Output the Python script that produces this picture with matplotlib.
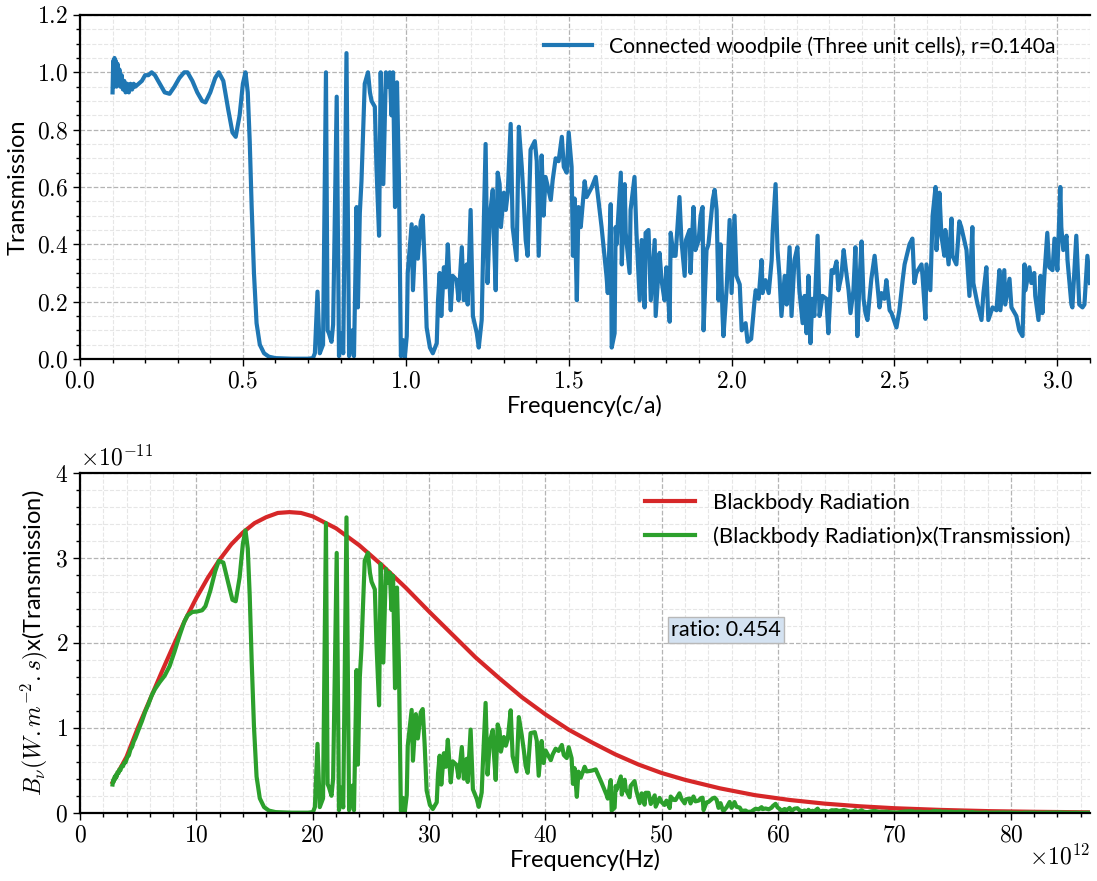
import numpy as np
import matplotlib.pyplot as plt
from matplotlib.ticker import MultipleLocator, FuncFormatter

# transmission spectrum, frequency in units of c/a
freq_ca = [
    0.100, 0.102, 0.104, 0.106, 0.108, 0.110, 0.112, 0.115, 0.118, 0.121,
    0.124, 0.128, 0.132, 0.136, 0.140, 0.145, 0.150, 0.155, 0.160, 0.165,
    0.170, 0.180, 0.190, 0.200, 0.210, 0.220, 0.230, 0.245, 0.260, 0.275,
    0.290, 0.305, 0.320, 0.330, 0.345, 0.360, 0.375, 0.385, 0.400, 0.415,
    0.426, 0.440, 0.455, 0.468, 0.478, 0.490, 0.500, 0.508, 0.515, 0.521,
    0.527, 0.534, 0.542, 0.552, 0.565, 0.580, 0.600, 0.650, 0.700, 0.715,
    0.721, 0.729, 0.736, 0.746, 0.755, 0.760, 0.764, 0.772, 0.777, 0.788,
    0.795, 0.802, 0.808, 0.818, 0.826, 0.836, 0.841, 0.849, 0.853, 0.859,
    0.864, 0.868, 0.874, 0.884, 0.890, 0.895, 0.905, 0.910, 0.918, 0.923,
    0.931, 0.939, 0.945, 0.951, 0.956, 0.961, 0.967, 0.973, 0.979, 0.985,
    0.991, 0.997, 1.003, 1.006, 1.018, 1.022, 1.031, 1.037, 1.046, 1.052,
    1.058, 1.064, 1.074, 1.083, 1.095, 1.099, 1.104, 1.109, 1.117, 1.123,
    1.129, 1.138, 1.144, 1.156, 1.162, 1.172, 1.178, 1.187, 1.190, 1.199,
    1.206, 1.218, 1.224, 1.233, 1.236, 1.245, 1.251, 1.258, 1.267, 1.270,
    1.276, 1.282, 1.288, 1.292, 1.301, 1.307, 1.313, 1.322, 1.328, 1.340,
    1.347, 1.356, 1.362, 1.368, 1.374, 1.383, 1.396, 1.402, 1.408, 1.417,
    1.423, 1.429, 1.436, 1.445, 1.451, 1.460, 1.469, 1.479, 1.485, 1.494,
    1.500, 1.509, 1.513, 1.518, 1.525, 1.530, 1.537, 1.549, 1.555, 1.571,
    1.583, 1.601, 1.616, 1.620, 1.629, 1.632, 1.641, 1.644, 1.647, 1.660,
    1.663, 1.672, 1.675, 1.687, 1.690, 1.702, 1.708, 1.718, 1.724, 1.733,
    1.736, 1.745, 1.752, 1.764, 1.767, 1.779, 1.785, 1.794, 1.800, 1.810,
    1.813, 1.822, 1.828, 1.840, 1.846, 1.856, 1.860, 1.871, 1.874, 1.883,
    1.889, 1.899, 1.905, 1.911, 1.914, 1.923, 1.929, 1.942, 1.948, 1.954,
    1.960, 1.966, 1.972, 1.975, 1.985, 1.994, 2.000, 2.009, 2.015, 2.025,
    2.031, 2.043, 2.049, 2.060, 2.071, 2.074, 2.083, 2.092, 2.095, 2.104,
    2.114, 2.123, 2.126, 2.135, 2.141, 2.147, 2.153, 2.163, 2.169, 2.178,
    2.184, 2.193, 2.202, 2.208, 2.218, 2.224, 2.230, 2.236, 2.242, 2.248,
    2.254, 2.264, 2.270, 2.279, 2.291, 2.297, 2.307, 2.313, 2.322, 2.328,
    2.337, 2.344, 2.350, 2.359, 2.365, 2.374, 2.380, 2.386, 2.393, 2.399,
    2.405, 2.411, 2.417, 2.429, 2.439, 2.445, 2.454, 2.460, 2.469, 2.475,
    2.485, 2.491, 2.506, 2.515, 2.525, 2.531, 2.546, 2.555, 2.561, 2.567,
    2.583, 2.586, 2.595, 2.598, 2.610, 2.617, 2.626, 2.629, 2.638, 2.644,
    2.653, 2.656, 2.666, 2.675, 2.678, 2.690, 2.699, 2.705, 2.721, 2.730,
    2.739, 2.742, 2.755, 2.767, 2.773, 2.782, 2.788, 2.801, 2.813, 2.822,
    2.825, 2.837, 2.840, 2.853, 2.859, 2.874, 2.883, 2.893, 2.899, 2.902,
    2.914, 2.920, 2.929, 2.932, 2.942, 2.948, 2.954, 2.960, 2.969, 2.975,
    2.985, 2.991, 3.000, 3.009, 3.012, 3.018, 3.028, 3.031, 3.043, 3.046,
    3.058, 3.067, 3.077, 3.083, 3.092, 3.100,
]
transmission = [
    0.93, 1.04, 0.95, 1.05, 0.96, 1.04, 0.95, 1.03, 0.96, 1.01,
    0.95, 0.99, 0.94, 0.97, 0.93, 0.96, 0.93, 0.96, 0.94, 0.96,
    0.95, 0.96, 0.97, 0.99, 0.99, 1.00, 0.99, 0.96, 0.93, 0.925,
    0.95, 0.98, 1.00, 1.00, 0.97, 0.93, 0.90, 0.895, 0.93, 0.98,
    1.00, 0.97, 0.87, 0.79, 0.775, 0.85, 0.96, 1.00, 0.93, 0.76,
    0.53, 0.30, 0.125, 0.05, 0.02, 0.008, 0.003, 0.001, 0.001, 0.003,
    0.02, 0.235, 0.02, 0.05, 1.00, 0.10, 0.09, 0.06, 0.12, 0.915,
    0.01, 0.09, 0.02, 1.067, 0.01, 0.10, 0.01, 0.53, 0.18, 0.51,
    0.62, 0.76, 0.96, 1.00, 0.93, 0.90, 0.88, 0.67, 0.43, 1.00,
    0.61, 1.00, 0.95, 1.00, 0.85, 1.00, 0.53, 0.965, 0.63, 0.01,
    0.066, 0.005, 0.08, 0.30, 0.47, 0.24, 0.46, 0.35, 0.48, 0.50,
    0.33, 0.11, 0.04, 0.02, 0.055, 0.205, 0.30, 0.15, 0.32, 0.25,
    0.40, 0.17, 0.29, 0.275, 0.205, 0.39, 0.205, 0.33, 0.19, 0.52,
    0.15, 0.09, 0.04, 0.136, 0.30, 0.75, 0.265, 0.50, 0.59, 0.44,
    0.24, 0.65, 0.61, 0.46, 0.58, 0.52, 0.58, 0.82, 0.46, 0.345,
    0.81, 0.67, 0.555, 0.415, 0.36, 0.73, 0.76, 0.69, 0.36, 0.71,
    0.50, 0.635, 0.60, 0.555, 0.625, 0.70, 0.69, 0.775, 0.67, 0.65,
    0.79, 0.67, 0.36, 0.56, 0.205, 0.53, 0.46, 0.62, 0.565, 0.60,
    0.635, 0.46, 0.29, 0.23, 0.54, 0.04, 0.09, 0.46, 0.40, 0.65,
    0.33, 0.61, 0.44, 0.30, 0.52, 0.635, 0.44, 0.205, 0.415, 0.18,
    0.44, 0.45, 0.205, 0.415, 0.15, 0.37, 0.275, 0.205, 0.32, 0.13,
    0.44, 0.36, 0.36, 0.565, 0.415, 0.29, 0.415, 0.45, 0.30, 0.53,
    0.38, 0.415, 0.50, 0.53, 0.10, 0.38, 0.40, 0.555, 0.59, 0.52,
    0.205, 0.40, 0.16, 0.08, 0.25, 0.485, 0.23, 0.50, 0.29, 0.26,
    0.10, 0.125, 0.06, 0.07, 0.21, 0.24, 0.21, 0.345, 0.23, 0.275,
    0.23, 0.345, 0.44, 0.61, 0.38, 0.29, 0.15, 0.29, 0.19, 0.39,
    0.15, 0.345, 0.39, 0.24, 0.125, 0.22, 0.09, 0.29, 0.055, 0.21,
    0.15, 0.43, 0.15, 0.22, 0.21, 0.09, 0.31, 0.30, 0.34, 0.24,
    0.29, 0.38, 0.32, 0.24, 0.16, 0.24, 0.39, 0.08, 0.28, 0.41,
    0.21, 0.16, 0.136, 0.28, 0.36, 0.29, 0.18, 0.23, 0.21, 0.275,
    0.17, 0.16, 0.11, 0.17, 0.275, 0.33, 0.40, 0.42, 0.265, 0.30,
    0.33, 0.29, 0.14, 0.33, 0.24, 0.50, 0.60, 0.38, 0.58, 0.43,
    0.36, 0.45, 0.33, 0.49, 0.36, 0.33, 0.48, 0.46, 0.38, 0.22,
    0.46, 0.265, 0.19, 0.136, 0.23, 0.32, 0.136, 0.18, 0.17, 0.31,
    0.17, 0.31, 0.19, 0.28, 0.18, 0.15, 0.10, 0.08, 0.33, 0.24,
    0.32, 0.265, 0.30, 0.22, 0.136, 0.29, 0.16, 0.29, 0.44, 0.32,
    0.31, 0.42, 0.31, 0.60, 0.46, 0.38, 0.43, 0.345, 0.19, 0.18,
    0.43, 0.19, 0.18, 0.19, 0.36, 0.265,
]

# blackbody spectral radiance (units of 1e-11) at frequencies (units of 1e12 Hz)
bb_freq = [2.8, 4, 5, 6, 7, 8, 9, 10, 11, 12, 13, 14, 15, 16, 17, 18, 19, 20,
           22, 24, 26, 28, 30, 32, 34, 36, 38, 40, 42, 44, 46, 48, 50, 52,
           55, 58, 61, 64, 67, 70, 74, 78, 82, 87]
bb_radiance = [0.36, 0.66, 1.01, 1.33, 1.65, 1.96, 2.26, 2.53, 2.77, 2.98,
               3.16, 3.30, 3.41, 3.48, 3.53, 3.54, 3.53, 3.49, 3.35, 3.15,
               2.91, 2.65, 2.37, 2.10, 1.83, 1.59, 1.36, 1.16, 0.98, 0.83,
               0.69, 0.57, 0.47, 0.39, 0.29, 0.21, 0.153, 0.110, 0.079, 0.056,
               0.036, 0.022, 0.014, 0.0075]

hz_per_ca = 28.0e12
ratio = 0.454

plt.rcParams['font.family'] = ['Lato', 'DejaVu Sans']
plt.rcParams['mathtext.fontset'] = 'cm'

blue, red, green = '#1f77b4', '#d62728', '#2ca02c'
tick_fs = 17
label_fs = 17

fig = plt.figure(figsize=(10.97, 8.81), dpi=100)
ax1 = fig.add_axes([0.0729, 0.5925, 0.9207, 0.3905])
ax2 = fig.add_axes([0.0729, 0.0772, 0.9207, 0.3859])


def style(ax):
    ax.grid(which='major', ls='--', color='#b4b4b4', lw=0.9)
    ax.grid(which='minor', ls='--', color='#e6e6e6', lw=0.8)
    ax.set_axisbelow(True)
    ax.spines['right'].set_visible(False)
    for s in ['top', 'left', 'bottom']:
        ax.spines[s].set_linewidth(1.6)
    ax.tick_params(which='both', direction='out', top=False, right=False,
                   labelsize=tick_fs, width=1)
    ax.tick_params(which='major', length=5)
    ax.tick_params(which='minor', length=3)


# top: transmission
ax1.plot(freq_ca, transmission, color=blue, lw=3,
         label='Connected woodpile (Three unit cells), r=0.140a')
ax1.set_xlim(0, 3.1)
ax1.set_ylim(0, 1.2)
ax1.xaxis.set_major_locator(MultipleLocator(0.5))
ax1.xaxis.set_minor_locator(MultipleLocator(0.1))
ax1.yaxis.set_major_locator(MultipleLocator(0.2))
ax1.yaxis.set_minor_locator(MultipleLocator(0.05))
ax1.xaxis.set_major_formatter(FuncFormatter(lambda v, p: '$%.1f$' % v))
ax1.yaxis.set_major_formatter(FuncFormatter(lambda v, p: '$%.1f$' % v))
ax1.set_xlabel('Frequency(c/a)', fontsize=label_fs, labelpad=2)
ax1.set_ylabel('Transmission', fontsize=label_fs, labelpad=6)
style(ax1)
ax1.legend(loc='upper right', bbox_to_anchor=(0.987, 1.0), frameon=False,
           fontsize=15.2, handlelength=2.3, borderaxespad=0.6)

# bottom: blackbody radiation and filtered radiation
nu = np.array(freq_ca) * hz_per_ca
bb_nu = np.array(bb_freq) * 1e12
bb_val = np.array(bb_radiance) * 1e-11
filtered = np.interp(nu, bb_nu, bb_val) * np.array(transmission)

ax2.plot(bb_nu, bb_val, color=red, lw=3, label='Blackbody Radiation')
ax2.plot(nu, filtered, color=green, lw=3,
         label='(Blackbody Radiation)x(Transmission)')
ax2.set_xlim(0, 3.1 * hz_per_ca)
ax2.set_ylim(0, 4e-11)
ax2.xaxis.set_major_locator(MultipleLocator(10e12))
ax2.xaxis.set_minor_locator(MultipleLocator(2e12))
ax2.yaxis.set_major_locator(MultipleLocator(1e-11))
ax2.yaxis.set_minor_locator(MultipleLocator(0.2e-11))
ax2.xaxis.set_major_formatter(FuncFormatter(lambda v, p: '$%d$' % round(v / 1e12)))
ax2.yaxis.set_major_formatter(FuncFormatter(lambda v, p: '$%d$' % round(v / 1e-11)))
ax2.text(0.0, 1.01, r'$\times10^{-11}$', transform=ax2.transAxes,
         ha='left', va='bottom', fontsize=tick_fs)
ax2.text(1.0, -0.09, r'$\times10^{12}$', transform=ax2.transAxes,
         ha='right', va='top', fontsize=tick_fs)
ax2.set_xlabel('Frequency(Hz)', fontsize=label_fs, labelpad=2)
ax2.set_ylabel(r'$B_{\nu}(W.m^{-2}.s)$x(Transmission)', fontsize=label_fs)
style(ax2)
ax2.legend(loc='upper right', frameon=False, fontsize=15.8,
           handlelength=2.3, borderaxespad=0.5, labelspacing=0.6)
ax2.text(50.8e12, 2.15e-11, 'ratio: %.3f' % ratio, fontsize=15.5, va='center',
         bbox=dict(facecolor='#d4e2f1', edgecolor='#b8b8b8', pad=2))

fig.savefig('out.png', dpi=100)
